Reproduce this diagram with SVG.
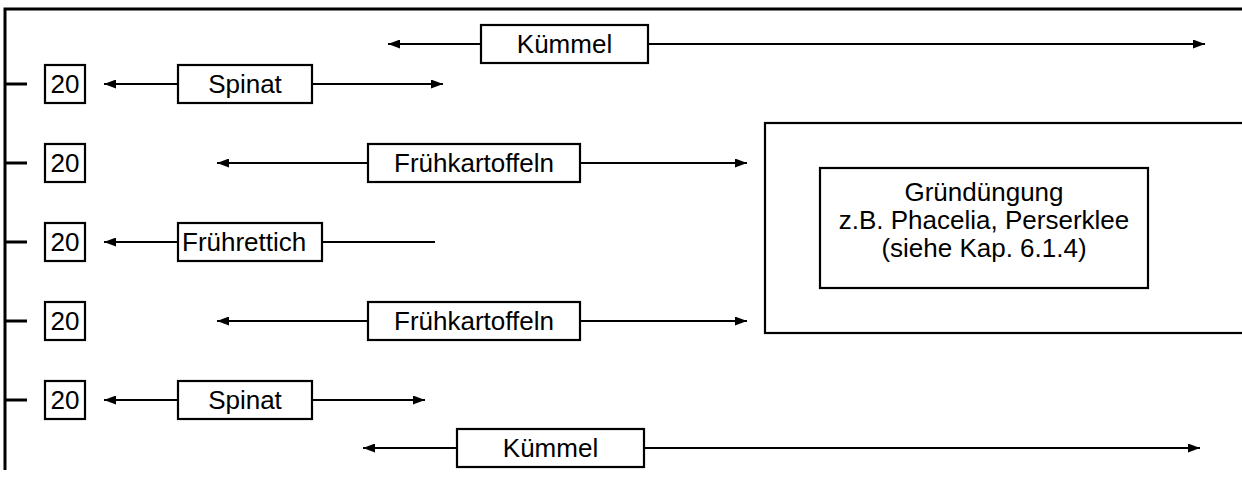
<svg xmlns="http://www.w3.org/2000/svg" width="1242" height="486" viewBox="0 0 1242 486">
  <defs>
    <marker id="head" viewBox="0 0 12 9" refX="12" refY="4.5" markerWidth="12" markerHeight="9" markerUnits="userSpaceOnUse" orient="auto-start-reverse">
      <path d="M0,0 L12,4.5 L0,9 Z" fill="#000"/>
    </marker>
  </defs>
  <style>
    text { font-family: "Liberation Sans", Arial, sans-serif; font-size: 26px; fill: #000; }
    .box { fill: #fff; stroke: #000; stroke-width: 2.2; }
    .frame { fill: none; stroke: #000; stroke-width: 3; }
    .tick { stroke: #000; stroke-width: 3; }
    .link { stroke: #000; stroke-width: 2; fill: none; }
    .arr { marker-end: url(#head); }
  </style>
  <rect width="1242" height="486" fill="#fff"/>

  <!-- outer frame -->
  <path class="frame" d="M5,470 V9 H1242"/>

  <!-- row ticks -->
  <g id="ticks">
    <line class="tick" x1="5" y1="84" x2="27" y2="84"/>
    <line class="tick" x1="5" y1="163" x2="27" y2="163"/>
    <line class="tick" x1="5" y1="242" x2="27" y2="242"/>
    <line class="tick" x1="5" y1="321" x2="27" y2="321"/>
    <line class="tick" x1="5" y1="400" x2="27" y2="400"/>
  </g>

  <!-- connectors -->
  <g id="connectors">
    <line class="link arr" x1="481" y1="44" x2="388" y2="44"/>
    <line class="link arr" x1="648" y1="44" x2="1205" y2="44"/>
    <line class="link arr" x1="178" y1="84" x2="104" y2="84"/>
    <line class="link arr" x1="312" y1="84" x2="443" y2="84"/>
    <line class="link arr" x1="368" y1="163" x2="217" y2="163"/>
    <line class="link arr" x1="580" y1="163" x2="747" y2="163"/>
    <line class="link arr" x1="178" y1="242" x2="104" y2="242"/>
    <line class="link" x1="322" y1="242" x2="435" y2="242"/>
    <line class="link arr" x1="368" y1="321" x2="217" y2="321"/>
    <line class="link arr" x1="580" y1="321" x2="747" y2="321"/>
    <line class="link arr" x1="178" y1="400" x2="104" y2="400"/>
    <line class="link arr" x1="312" y1="400" x2="425" y2="400"/>
    <line class="link arr" x1="457" y1="448" x2="363" y2="448"/>
    <line class="link arr" x1="644" y1="448" x2="1200" y2="448"/>
  </g>

  <!-- interval markers -->
  <g id="n20a"><rect class="box" x="45" y="65" width="40" height="38"/><text x="65" y="93" text-anchor="middle">20</text></g>
  <g id="n20b"><rect class="box" x="45" y="144" width="40" height="38"/><text x="65" y="172" text-anchor="middle">20</text></g>
  <g id="n20c"><rect class="box" x="45" y="223" width="40" height="38"/><text x="65" y="251" text-anchor="middle">20</text></g>
  <g id="n20d"><rect class="box" x="45" y="302" width="40" height="38"/><text x="65" y="330" text-anchor="middle">20</text></g>
  <g id="n20e"><rect class="box" x="45" y="381" width="40" height="38"/><text x="65" y="409" text-anchor="middle">20</text></g>

  <!-- crops -->
  <g id="kuemmel-top"><rect class="box" x="481" y="25" width="167" height="38"/><text x="564.5" y="53" text-anchor="middle">Kümmel</text></g>
  <g id="spinat-1"><rect class="box" x="178" y="65" width="134" height="38"/><text x="245" y="93" text-anchor="middle">Spinat</text></g>
  <g id="kartoffeln-1"><rect class="box" x="368" y="144" width="212" height="38"/><text x="474" y="172" text-anchor="middle">Frühkartoffeln</text></g>
  <g id="rettich"><rect class="box" x="178" y="223" width="144" height="38"/><text x="182" y="251">Frührettich</text></g>
  <g id="kartoffeln-2"><rect class="box" x="368" y="302" width="212" height="38"/><text x="474" y="330" text-anchor="middle">Frühkartoffeln</text></g>
  <g id="spinat-2"><rect class="box" x="178" y="381" width="134" height="38"/><text x="245" y="409" text-anchor="middle">Spinat</text></g>
  <g id="kuemmel-bottom"><rect class="box" x="457" y="429" width="187" height="38"/><text x="550.5" y="457" text-anchor="middle">Kümmel</text></g>

  <!-- green manure block -->
  <g id="gruenduengung">
    <rect class="box" x="765" y="123" width="490" height="210"/>
    <rect class="box" x="820" y="168" width="328" height="120"/>
    <text x="984" y="201" text-anchor="middle">Gründüngung</text>
    <text x="984" y="229" text-anchor="middle">z.B. Phacelia, Perserklee</text>
    <text x="984" y="257" text-anchor="middle">(siehe Kap. 6.1.4)</text>
  </g>
</svg>
